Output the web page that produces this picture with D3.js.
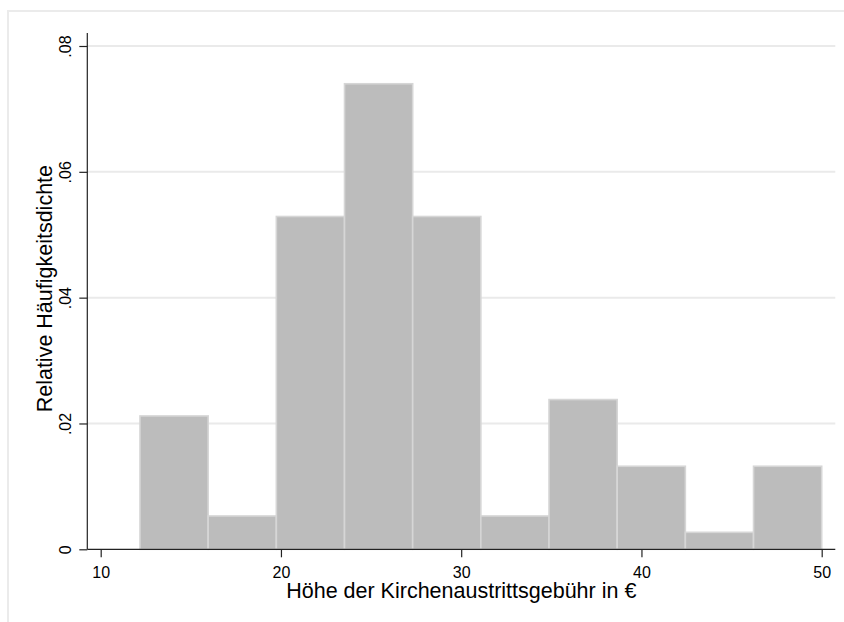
<!DOCTYPE html>
<html>
<head>
<meta charset="utf-8">
<script src="https://cdn.jsdelivr.net/npm/d3@7"></script>
<style>
  html, body { margin: 0; padding: 0; background: #fff; }
  text { font-family: "Liberation Sans", Arial, sans-serif; fill: #000; }
</style>
</head>
<body>
<svg id="id_svg"></svg>
<script>
width = 844
height = 622

// histogram bins (Kirchenaustrittsgebühr), start and width of each bin
binStart = 12.18
binWidth = 3.782
density = [0.0212, 0.0053, 0.0529, 0.0740, 0.0529, 0.0053, 0.0238, 0.0132, 0.0027, 0.0132]

xTicks = [10, 20, 30, 40, 50]
yTicks = [0, 0.02, 0.04, 0.06, 0.08]
yTickLabels = ["0", ".02", ".04", ".06", ".08"]

xTitle = "Höhe der Kirchenaustrittsgebühr in €"
yTitle = "Relative Häufigkeitsdichte"

bins = density.map((d, i) => ({
    x0: binStart + i * binWidth,
    x1: binStart + (i + 1) * binWidth,
    d: d
}))

chart = function() {
    const plot = { left: 87.3, right: 835.3, top: 33, bottom: 549.3 };

    const x = d3.scaleLinear().domain([10, 50]).range([100.7, 821.7]);
    const y = d3.scaleLinear().domain([0, 0.08]).range([549.3, 46]);

    const svg = d3.select("#id_svg")
        .attr("width", width)
        .attr("height", height)
        .attr("viewBox", [0, 0, width, height]);

    // outer graph region frame
    svg.append("rect")
        .attr("x", 8).attr("y", 11)
        .attr("width", width).attr("height", height)
        .attr("fill", "none")
        .attr("stroke", "#ebebeb")
        .attr("stroke-width", 2);

    // horizontal grid lines
    svg.append("g")
        .selectAll("line")
        .data(yTicks.filter(t => t > 0))
        .join("line")
        .attr("x1", plot.left).attr("x2", plot.right)
        .attr("y1", d => y(d)).attr("y2", d => y(d))
        .attr("stroke", "#eaeaea")
        .attr("stroke-width", 2);

    // bars
    svg.append("g")
        .selectAll("rect")
        .data(bins)
        .join("rect")
        .attr("x", d => x(d.x0))
        .attr("width", d => x(d.x1) - x(d.x0))
        .attr("y", d => y(d.d))
        .attr("height", d => y(0) - y(d.d))
        .attr("fill", "#bcbcbc")
        .attr("stroke", "#d6d6d6")
        .attr("stroke-width", 1.6);

    // y axis
    const yAxis = svg.append("g")
        .attr("transform", `translate(${plot.left},0)`)
        .call(d3.axisLeft(y).tickValues(yTicks).tickSize(8).tickFormat((d, i) => yTickLabels[i]));
    yAxis.select(".domain").attr("d", `M0,${plot.top}V${plot.bottom}`).attr("stroke", "#222").attr("stroke-width", 1.2);
    yAxis.selectAll(".tick line").attr("stroke", "#222").attr("stroke-width", 1.2);
    yAxis.selectAll(".tick text")
        .attr("font-size", 16)
        .attr("font-family", "Liberation Sans, Arial, sans-serif")
        .attr("fill", "#000")
        .attr("text-anchor", "middle")
        .attr("x", null).attr("dy", null)
        .attr("transform", "translate(-16.5,0) rotate(-90)");

    // x axis
    const xAxis = svg.append("g")
        .attr("transform", `translate(0,${plot.bottom})`)
        .call(d3.axisBottom(x).tickValues(xTicks).tickSize(8));
    xAxis.select(".domain").attr("d", `M${plot.left},0H${plot.right}`).attr("stroke", "#222").attr("stroke-width", 1.2);
    xAxis.selectAll(".tick line").attr("stroke", "#222").attr("stroke-width", 1.2);
    xAxis.selectAll(".tick text")
        .attr("font-size", 16)
        .attr("font-family", "Liberation Sans, Arial, sans-serif")
        .attr("fill", "#000")
        .attr("y", 29).attr("dy", null);

    // axis titles
    svg.append("text")
        .attr("x", (plot.left + plot.right) / 2)
        .attr("y", 598)
        .attr("text-anchor", "middle")
        .attr("font-size", 21.5)
        .text(xTitle);

    svg.append("text")
        .attr("transform", `translate(51.5,${(y(0) + y(0.08)) / 2 - 9}) rotate(-90)`)
        .attr("text-anchor", "middle")
        .attr("font-size", 21.5)
        .text(yTitle);

    return svg.node();
}
chart()
</script>
</body>
</html>
